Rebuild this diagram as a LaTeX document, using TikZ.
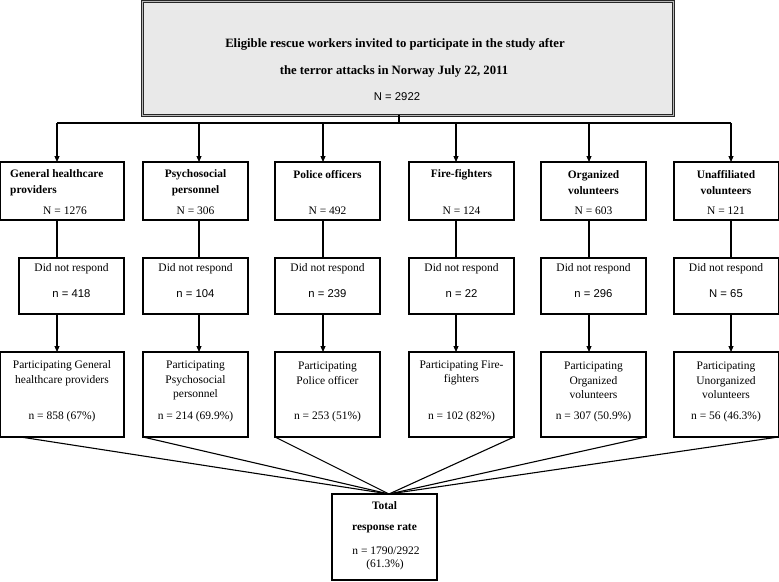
\documentclass[tikz,border=0pt]{standalone}
\usepackage{fontspec}
\setmainfont{Liberation Serif}
\setsansfont{Liberation Sans}
\usetikzlibrary{arrows.meta,calc}
\begin{document}
\begin{tikzpicture}[x=1pt,y=-1pt,
 box/.style={draw=black, line width=1.1pt, inner sep=0pt, outer sep=0pt, anchor=north west},
 txt/.style={inner sep=0pt, align=center, font=\fontsize{11.5}{14.5}\selectfont},
 ttl/.style={inner sep=0pt, align=center, font=\fontsize{11.4}{16}\selectfont\bfseries},
 stxt/.style={inner sep=0pt, font=\sffamily\fontsize{11.3}{14}\selectfont},
 conn/.style={line width=1.1pt},
 arr/.style={conn, -{Triangle[length=6pt,width=5pt]}},
]
\useasboundingbox (0,0) rectangle (779,581);

% top box
\node[box, minimum width=531pt, minimum height=114pt, fill=gray!17, draw=black!85, line width=0.8pt, double=gray!55, double distance=0.9pt] (top) at (142.5,1.3) {};
\node[ttl, font=\fontsize{12.7}{16}\selectfont\bfseries] (topa) at (395,44) {Eligible rescue workers invited to participate in the study after};
\node[ttl, font=\fontsize{12.7}{16}\selectfont\bfseries] (topb) at (394,71) {the terror attacks in Norway July 22, 2011};
\node[stxt] (topn) at (397,97) {N = 2922};

% column coordinates
\coordinate (c1) at (57,0);
\coordinate (c2) at (199,0);
\coordinate (c3) at (323,0);
\coordinate (c4) at (456,0);
\coordinate (c5) at (589,0);
\coordinate (c6) at (731,0);
\coordinate (bus) at (399,123);

% row 1
\node[box, minimum width=123.4pt, minimum height=58pt] (g1) at (0.6,162) {};
\node[box, minimum width=105pt, minimum height=58pt] (g2) at (143,162) {};
\node[box, minimum width=105pt, minimum height=58pt] (g3) at (275,162) {};
\node[box, minimum width=105pt, minimum height=58pt] (g4) at (409,162) {};
\node[box, minimum width=105pt, minimum height=58pt] (g5) at (541,162) {};
\node[box, minimum width=104.4pt, minimum height=58pt] (g6) at (674,162) {};

\node[ttl, align=left, anchor=west] (g1t) at (10,183) {General healthcare\\providers};
\node[ttl] (g2t) at (195.5,183) {Psychosocial\\personnel};
\node[ttl] (g3t) at (327.5,175) {Police officers};
\node[ttl] (g4t) at (461.5,175) {Fire-fighters};
\node[ttl] (g5t) at (593.5,183) {Organized\\volunteers};
\node[ttl] (g6t) at (726,183) {Unaffiliated\\volunteers};
\node[txt] (g1n) at (65,211) {N = 1276};
\node[txt] (g2n) at (195.5,211) {N = 306};
\node[txt] (g3n) at (327.5,211) {N = 492};
\node[txt] (g4n) at (461.5,211) {N = 124};
\node[txt] (g5n) at (593.5,211) {N = 603};
\node[txt] (g6n) at (726,211) {N = 121};

% row 2
\node[box, minimum width=105pt, minimum height=56pt] (d1) at (19,258) {};
\node[box, minimum width=105pt, minimum height=56pt] (d2) at (143,258) {};
\node[box, minimum width=105pt, minimum height=56pt] (d3) at (275,258) {};
\node[box, minimum width=105pt, minimum height=56pt] (d4) at (409,258) {};
\node[box, minimum width=105pt, minimum height=56pt] (d5) at (541,258) {};
\node[box, minimum width=104.4pt, minimum height=56pt] (d6) at (674,258) {};

\node[txt] (d1t) at (71.5,269) {Did not respond};
\node[txt] (d2t) at (195.5,269) {Did not respond};
\node[txt] (d3t) at (327.5,269) {Did not respond};
\node[txt] (d4t) at (461.5,269) {Did not respond};
\node[txt] (d5t) at (593.5,269) {Did not respond};
\node[txt] (d6t) at (726,269) {Did not respond};
\node[stxt] (d1n) at (71.5,294) {n = 418};
\node[stxt] (d2n) at (195.5,294) {n = 104};
\node[stxt] (d3n) at (327.5,294) {n = 239};
\node[stxt] (d4n) at (461.5,294) {n = 22};
\node[stxt] (d5n) at (593.5,294) {n = 296};
\node[stxt] (d6n) at (726,294) {N = 65};

% row 3
\node[box, minimum width=123.4pt, minimum height=85pt] (p1) at (0.6,352) {};
\node[box, minimum width=105pt, minimum height=85pt] (p2) at (143,352) {};
\node[box, minimum width=105pt, minimum height=85pt] (p3) at (275,352) {};
\node[box, minimum width=105pt, minimum height=85pt] (p4) at (409,352) {};
\node[box, minimum width=105pt, minimum height=85pt] (p5) at (541,352) {};
\node[box, minimum width=104.4pt, minimum height=85pt] (p6) at (674,352) {};

\node[txt] (p1t) at (62,373) {Participating General\\healthcare providers};
\node[txt] (p2t) at (195.5,380.5) {Participating\\Psychosocial\\personnel};
\node[txt] (p3t) at (327.5,373) {Participating\\Police officer};
\node[txt] (p4t) at (461.5,373) {Participating Fire-\\fighters};
\node[txt] (p5t) at (593.5,380.5) {Participating\\Organized\\volunteers};
\node[txt] (p6t) at (726,380.5) {Participating\\Unorganized\\volunteers};
\node[txt] (p1n) at (62,417) {n = 858 (67\%)};
\node[txt] (p2n) at (195.5,417) {n = 214 (69.9\%)};
\node[txt] (p3n) at (327.5,417) {n = 253 (51\%)};
\node[txt] (p4n) at (461.5,417) {n = 102 (82\%)};
\node[txt] (p5n) at (593.5,417) {n = 307 (50.9\%)};
\node[txt] (p6n) at (726,417) {n = 56 (46.3\%)};

% total
\node[box, minimum width=105pt, minimum height=86pt] (tot) at (332,494) {};
\node[ttl] (tota) at (384.5,506) {Total};
\node[ttl] (totb) at (384.5,528) {response rate};
\node[txt] (totc) at (386,551) {n = 1790/2922};
\node[txt] (totd) at (385,565) {(61.3\%)};
\coordinate (conv) at ($(tot.north)+(4.5,0)$);

% connectors
\draw[conn] (top.south -| bus) -- (bus);
\draw[conn] (c1 |- bus) -- (c6 |- bus);
\foreach \i in {1,...,6}{
  \draw[arr] (c\i |- bus) -- (c\i |- g\i.north);
  \draw[conn] (c\i |- g\i.south) -- (c\i |- d\i.north);
  \draw[arr] (c\i |- d\i.south) -- (c\i |- p\i.north);
}
\draw[conn] ($(p1.south west)+(20,0)$) -- (conv);
\draw[conn] (p2.south west) -- (conv);
\draw[conn] (p3.south west) -- (conv);
\draw[conn] (p4.south east) -- (conv);
\draw[conn] (p5.south east) -- (conv);
\draw[conn] (p6.south east) -- (conv);
\end{tikzpicture}
\end{document}
